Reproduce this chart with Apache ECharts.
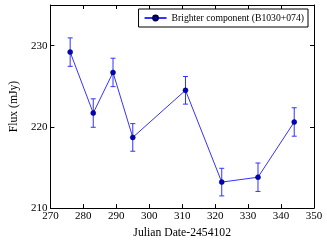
<!DOCTYPE html>
<html><head><meta charset="utf-8">
<script src="https://cdn.jsdelivr.net/npm/echarts@6/dist/echarts.min.js"></script>
<style>html,body{margin:0;padding:0;background:#fff}#c{width:327px;height:244px}</style>
</head><body><div id="c"></div>
<script>
var julianDays = [276, 283, 289, 295, 311, 322, 333, 344];
var fluxValues = [229.2, 221.7, 226.7, 218.7, 224.5, 213.2, 213.8, 220.6];
var fluxErrors = [1.75, 1.75, 1.75, 1.7, 1.7, 1.7, 1.75, 1.75];
var seriesName = 'Brighter component (B1030+074)';
var xTitle = 'Julian Date-2454102';
var yTitle = 'Flux (mJy)';

var FONT = 'Liberation Serif';
var pts = julianDays.map(function(x,i){return [x, fluxValues[i]];});
var errData = julianDays.map(function(x,i){return [x, fluxValues[i]-fluxErrors[i], fluxValues[i]+fluxErrors[i]];});

var chart = echarts.init(document.getElementById('c'), null, {renderer:'canvas'});
var axisCommon = {
  axisLine:{lineStyle:{color:'#000',width:1}},
  axisTick:{inside:true,length:4,lineStyle:{color:'#000'}},
  splitLine:{show:false}
};
chart.setOption({
  animation:false,
  grid:{left:39,right:13,top:5,bottom:27},
  legend:{
    right:19, top:9, orient:'horizontal',
    borderColor:'#000', borderWidth:1, padding:[4,4,4,5],
    itemWidth:22, itemHeight:6, itemGap:4,
    textStyle:{fontFamily:FONT,fontSize:9.7,color:'#000'},
    data:[seriesName]
  },
  xAxis:[
    Object.assign({type:'value',min:270,max:350,interval:10,
      name:xTitle,nameLocation:'middle',nameGap:18,
      nameTextStyle:{fontFamily:FONT,fontSize:11.7,color:'#000'},
      axisLabel:{fontFamily:FONT,fontSize:11,color:'#000',margin:3}}, axisCommon),
    Object.assign({type:'value',min:270,max:350,interval:10,position:'top',
      axisLabel:{show:false}}, axisCommon)
  ],
  yAxis:[
    Object.assign({type:'value',min:210,max:235,interval:10,
      name:yTitle,nameLocation:'middle',nameGap:26,
      nameTextStyle:{fontFamily:FONT,fontSize:11.7,color:'#000'},
      axisLabel:{fontFamily:FONT,fontSize:11,color:'#000',margin:3,
        formatter:function(v){return v%10===0?String(v):'';}}}, axisCommon),
    Object.assign({type:'value',min:210,max:235,interval:10,position:'right',
      axisLabel:{show:false}}, axisCommon)
  ],
  series:[
    {
      type:'custom', name:'err', xAxisIndex:0, yAxisIndex:0, silent:true, z:3,
      renderItem:function(params, api){
        var x = api.value(0);
        var lo = api.coord([x, api.value(1)]);
        var hi = api.coord([x, api.value(2)]);
        var cap = 2.5;
        var st = {stroke:'#3333ff', lineWidth:1};
        return {type:'group', children:[
          {type:'line', shape:{x1:lo[0],y1:lo[1],x2:hi[0],y2:hi[1]}, style:st},
          {type:'line', shape:{x1:lo[0]-cap,y1:lo[1],x2:lo[0]+cap,y2:lo[1]}, style:st},
          {type:'line', shape:{x1:hi[0]-cap,y1:hi[1],x2:hi[0]+cap,y2:hi[1]}, style:st}
        ]};
      },
      encode:{x:0,y:[1,2]},
      data:errData
    },
    {
      type:'line', name:seriesName, data:pts, z:4,
      symbol:'circle', symbolSize:5,
      lineStyle:{color:'#3333ff',width:1},
      itemStyle:{color:'#0000cc',borderColor:'#000033',borderWidth:0.5}
    }
  ]
});
</script></body></html>
